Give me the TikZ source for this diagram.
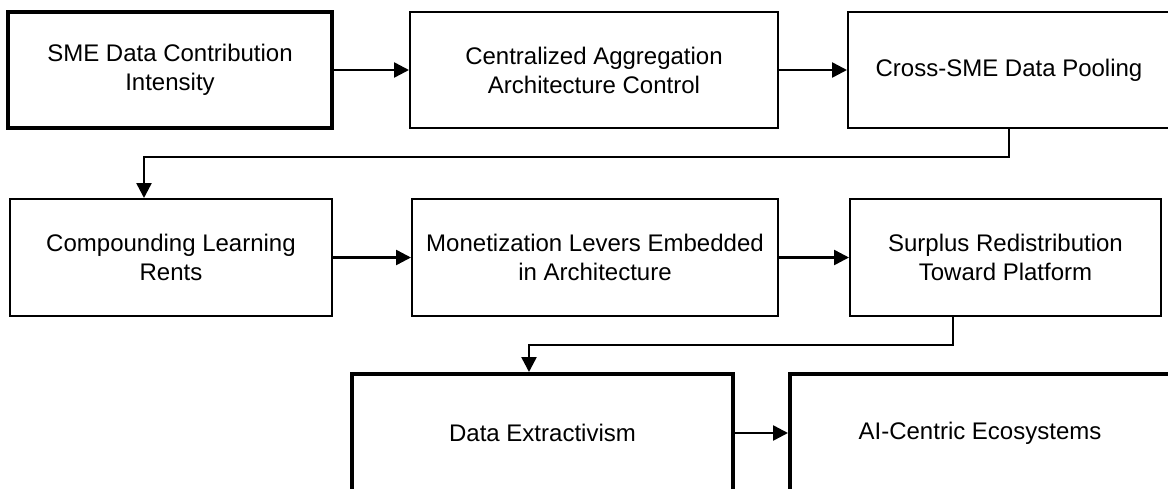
\documentclass[tikz,border=0pt]{standalone}
\usepackage{fontspec}
\setmainfont{Liberation Sans}
\usetikzlibrary{arrows.meta}
\tikzset{
  box/.style={draw=black, fill=white, line width=2pt, align=center, inner sep=0pt,
    font=\fontsize{24}{29}\selectfont},
  thickbox/.style={box, line width=4pt},
  conn/.style={draw=black, line width=2.5pt, -{Triangle[length=15pt,width=15pt]}}
}
\begin{document}
\begin{tikzpicture}[x=1pt,y=-1pt]
\useasboundingbox (0,0) rectangle (1168,488);
\clip (0,0) rectangle (1168,488);
\fill[white] (0,0) rectangle (1168,488);
\node[thickbox, minimum width=324pt, minimum height=116pt] (b1) at (170,70) {SME Data Contribution\\Intensity};
\node[box, minimum width=368pt, minimum height=116pt] (b2) at (594,70) {Centralized Aggregation\\Architecture Control};
\node[box, minimum width=322pt, minimum height=116pt] (b3) at (1009,70) {Cross-SME Data Pooling};
\node[box, minimum width=322pt, minimum height=117pt] (b4) at (171,257.5) {Compounding Learning\\Rents};
\node[box, minimum width=366pt, minimum height=117pt] (b5) at (595,257.5) {Monetization Levers Embedded\\in Architecture};
\node[box, minimum width=311pt, minimum height=117pt] (b6) at (1005.5,257.5) {Surplus Redistribution\\Toward Platform};
\node[thickbox, minimum width=381pt, minimum height=118pt] (b7) at (542.5,433) {Data Extractivism};
\node[thickbox, minimum width=380pt, minimum height=118pt] (b8) at (980,433) {AI-Centric Ecosystems};
\coordinate (k1) at (144,157);
\coordinate (k2) at (529,345);
\draw[conn] (b1.east) -- (b2.west);
\draw[conn] (b2.east) -- (b3.west);
\draw[conn] (b3.south) |- (k1) -- (k1 |- b4.north);
\draw[conn] (b4.east) -- (b5.west);
\draw[conn] (b5.east) -- (b6.west);
\draw[conn] ([xshift=-52.5pt]b6.south) |- (k2) -- (k2 |- b7.north);
\draw[conn] (b7.east) -- (b8.west);
\end{tikzpicture}
\end{document}
